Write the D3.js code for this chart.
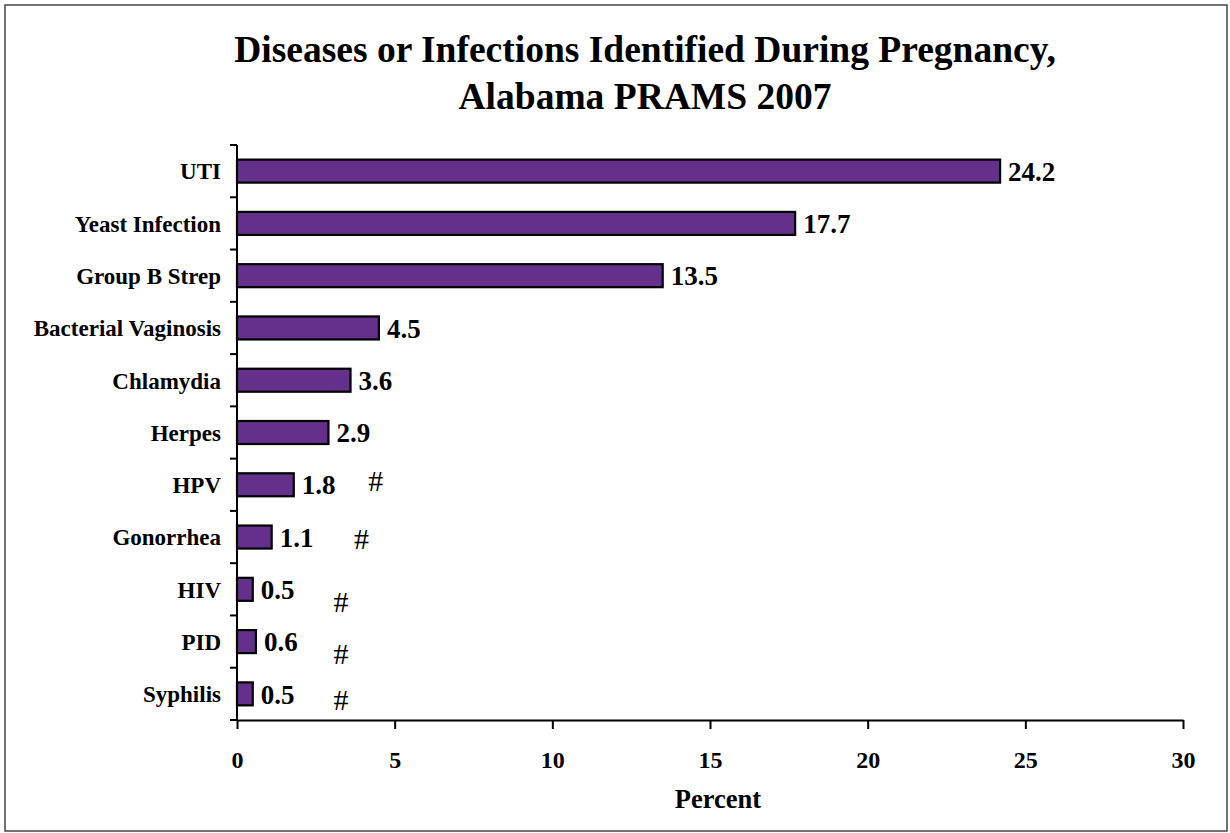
<!DOCTYPE html>
<html><head><meta charset="utf-8">
<script src="https://cdn.jsdelivr.net/npm/d3@7"></script>
<style>body{margin:0;background:#fff}svg{display:block}</style>
</head><body>
<script>
const categories = ["UTI","Yeast Infection","Group B Strep","Bacterial Vaginosis","Chlamydia","Herpes","HPV","Gonorrhea","HIV","PID","Syphilis"];
const values = [24.2,17.7,13.5,4.5,3.6,2.9,1.8,1.1,0.5,0.6,0.5];
const xTicks = [0,5,10,15,20,25,30];
const noteCats = ["HPV","Gonorrhea","HIV","PID","Syphilis"];
const noteAt = [4.4,3.95,3.3,3.3,3.3];
const noteDy = [-5,1,12,12,5];
const titleLines = ["Diseases or Infections Identified During Pregnancy,","Alabama PRAMS 2007"];
const xTitle = "Percent";

const W=1230,H=833;
const svg=d3.select("body").append("svg").attr("width",W).attr("height",H);
const font="'Liberation Serif','Times New Roman',serif";
svg.append("rect").attr("x",5).attr("y",5).attr("width",1222).attr("height",826)
  .attr("fill","#fff").attr("stroke","#444").attr("stroke-width",1.5);

const x=d3.scaleLinear().domain([0,30]).range([237,1183]);
const y=d3.scaleBand().domain(categories).range([145,720]).paddingInner(0.56).paddingOuter(0.28);

svg.selectAll("text.title").data(titleLines).enter().append("text")
  .attr("x",645).attr("y",(d,i)=>62+i*47).attr("text-anchor","middle")
  .style("font-family",font).style("font-weight","bold").style("font-size","37.5px").text(d=>d);

// bars
svg.selectAll("rect.bar").data(values).enter().append("rect")
  .attr("x",x(0)).attr("y",(d,i)=>y(categories[i])).attr("width",d=>x(d)-x(0)).attr("height",y.bandwidth())
  .attr("fill","#652f8c").attr("stroke","#000").attr("stroke-width",2.2);

// value labels
svg.selectAll("text.val").data(values).enter().append("text")
  .attr("x",d=>x(d)+8).attr("y",(d,i)=>y(categories[i])+y.bandwidth()/2).attr("dy","0.36em")
  .style("font-family",font).style("font-weight","bold").style("font-size","27px").text(d=>d.toFixed(1));

// notes
svg.selectAll("text.note").data(noteCats).enter().append("text")
  .attr("x",(d,i)=>x(noteAt[i])).attr("y",(d,i)=>y(d)+y.bandwidth()/2+noteDy[i]).attr("dy","0.36em")
  .attr("text-anchor","middle")
  .style("font-family",font).style("font-size","30px").text("#");

// y axis
const band=(720-145)/categories.length;
const yAx=svg.append("g");
yAx.append("line").attr("x1",237).attr("x2",237).attr("y1",145).attr("y2",721).attr("stroke","#000").attr("stroke-width",2);
yAx.selectAll("line.t").data(d3.range(categories.length+1)).enter().append("line")
  .attr("x1",230).attr("x2",237).attr("y1",i=>145+i*band).attr("y2",i=>145+i*band).attr("stroke","#000").attr("stroke-width",2);
yAx.selectAll("text").data(categories).enter().append("text")
  .attr("x",221).attr("y",d=>y(d)+y.bandwidth()/2).attr("dy","0.36em").attr("text-anchor","end")
  .style("font-family",font).style("font-weight","bold").style("font-size","23px").text(d=>d);

// x axis
const xAx=svg.append("g").attr("transform","translate(0,720)")
  .call(d3.axisBottom(x).tickValues(xTicks).tickSize(9).tickSizeOuter(0));
xAx.select(".domain").attr("stroke","#000").attr("stroke-width",2);
xAx.selectAll(".tick line").attr("stroke","#000").attr("stroke-width",2);
xAx.selectAll(".tick text").attr("y",48).attr("dy",null).style("font-family",font).style("font-weight","bold").style("font-size","24px").attr("fill","#000");

svg.append("text").attr("x",718).attr("y",808).attr("text-anchor","middle")
  .style("font-family",font).style("font-weight","bold").style("font-size","26.5px").text(xTitle);
</script>
</body></html>
